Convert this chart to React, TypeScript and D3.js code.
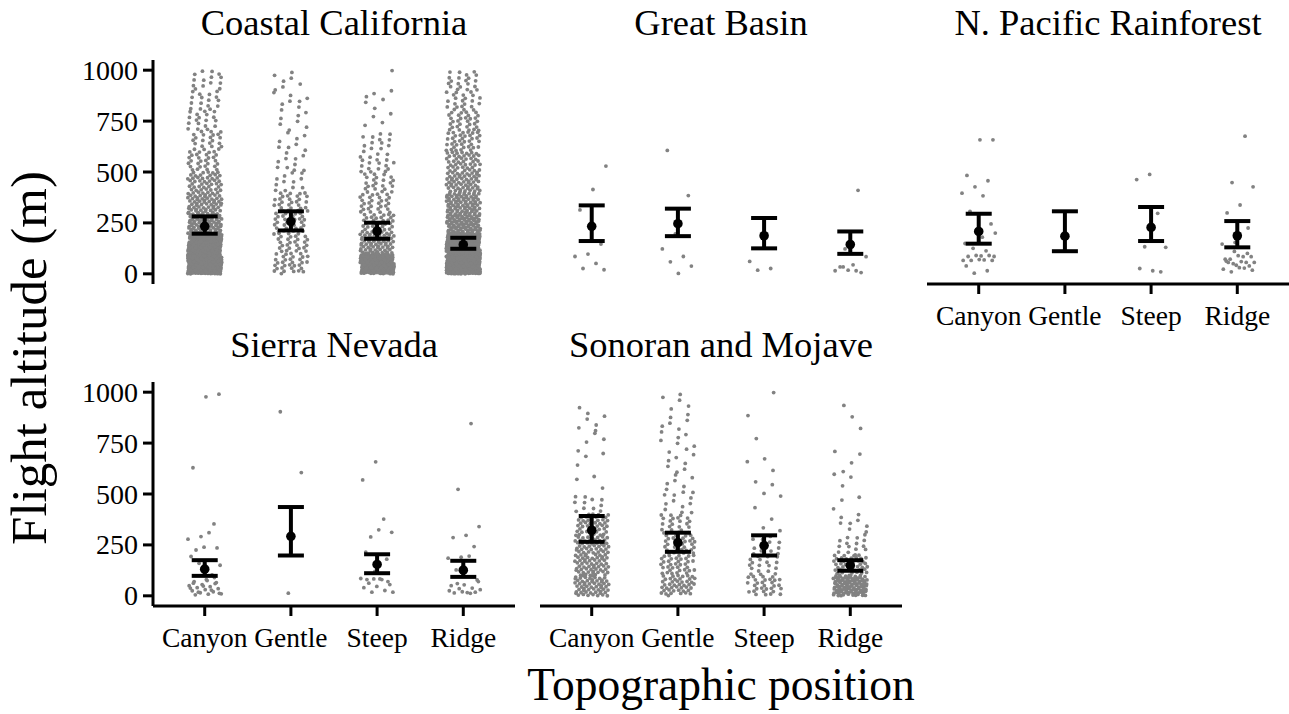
import React from "react";
import * as d3 from "d3";

// ---------- data ----------
const categories = ["Canyon", "Gentle", "Steep", "Ridge"];
const regions = [
  "Coastal California",
  "Great Basin",
  "N. Pacific Rainforest",
  "Sierra Nevada",
  "Sonoran and Mojave",
];
const yTicks = [0, 250, 500, 750, 1000];

// mean and CI per region (rows) x category (cols)
const meanAltitude = [
  [233, 257, 210, 143],
  [233, 246, 187, 144],
  [208, 185, 228, 187],
  [131, 292, 154, 126],
  [322, 261, 247, 150],
];
const lowerCI = [
  [197, 213, 172, 123],
  [161, 185, 125, 98],
  [148, 111, 161, 130],
  [98, 198, 111, 93],
  [265, 216, 198, 123],
];
const upperCI = [
  [282, 307, 251, 177],
  [336, 320, 274, 208],
  [295, 307, 328, 259],
  [175, 436, 204, 172],
  [392, 310, 297, 175],
];

// dense regions: number of flights per 100 m band (0-100, 100-200, ..., 900-1000)
const binEdges = [0, 100, 200, 300, 400, 500, 600, 700, 800, 900, 1000];
const coastalBinCounts = [
  [320, 150, 90, 62, 45, 28, 22, 18, 16, 14],
  [32, 28, 30, 28, 12, 10, 8, 7, 8, 7],
  [170, 65, 36, 28, 22, 18, 13, 4, 6, 1],
  [350, 190, 100, 78, 58, 45, 36, 30, 22, 20],
];
const sonoranBinCounts = [
  [60, 55, 50, 40, 12, 3, 3, 4, 6, 1],
  [45, 35, 30, 22, 10, 8, 7, 7, 7, 5],
  [30, 18, 12, 3, 2, 3, 3, 1, 1, 1],
  [110, 45, 15, 8, 3, 3, 3, 1, 2, 1],
];

// sparse regions: individual flights
const greatBasinPoints = [
  [529, 414, 314, 146, 97, 85, 51, 26, 20],
  [606, 384, 196, 122, 85, 59, 38, 2],
  [174, 61, 26, 18],
  [410, 122, 84, 44, 34, 6, 18, 15, 15, 34],
];
const pacificPoints = [
  [658, 658, 483, 457, 427, 396, 383, 307, 245, 196, 149, 113, 125, 85, 88, 85, 90, 90, 66, 68, 66, 66, 70, 39, 15, 3, 200, 180],
  [],
  [488, 463, 297, 133, 130, 15, 26, 10],
  [676, 448, 427, 338, 299, 225, 154, 146, 84, 72, 84, 89, 72, 56, 50, 56, 60, 56, 39, 42, 23, 28, 10, 18, 30, 62, 100, 110],
];
const sierraPoints = [
  [990, 977, 629, 353, 291, 278, 310, 225, 235, 239, 193, 103, 160, 150, 75, 70, 60, 55, 50, 45, 40, 35, 30, 25, 20, 15, 10, 8, 5, 65, 48, 38, 28, 18, 12, 80, 62, 90],
  [904, 605, 13],
  [658, 569, 377, 289, 312, 324, 215, 180, 83, 85, 80, 62, 55, 46, 40, 26, 18, 18, 83, 80, 70, 120],
  [846, 523, 340, 297, 286, 242, 190, 185, 195, 127, 78, 54, 50, 38, 35, 30, 16, 14, 18, 20, 25, 12, 60, 70],
];

// ---------- layout ----------
const W = 1289;
const H = 714;
const panelW = 362;
const colLeft = [153, 540, 927];
const rowTop = [60, 382];
const panelH = 224;
const FONT = "'Liberation Serif', 'Times New Roman', serif";
const JITTER = 17;
const A1 = 0.7548776662466927;
const A2 = 0.5698402909980532;
const frac = (v: number) => v - Math.floor(v);

type Pt = { cat: number; v: number; j: number };

function binnedPoints(counts: number[][]): Pt[] {
  const pts: Pt[] = [];
  counts.forEach((row, ci) => {
    let k = 0;
    row.forEach((n, bi) => {
      const lo = binEdges[bi];
      const hi = binEdges[bi + 1];
      for (let i = 0; i < n; i++) {
        const t = frac(0.5 + A2 * (i + 1) + ci * 0.37 + bi * 0.13);
        pts.push({ cat: ci, v: lo + (hi - lo) * t, j: frac(0.5 + A1 * (k + 1) + ci * 0.21) });
        k++;
      }
    });
  });
  return pts;
}

function listPoints(lists: number[][]): Pt[] {
  const pts: Pt[] = [];
  lists.forEach((row, ci) =>
    row.forEach((v, i) => pts.push({ cat: ci, v, j: frac(0.3 + 0.6180339887 * (i + 1) + ci * 0.27) }))
  );
  return pts;
}

const panelPoints: Pt[][] = [
  binnedPoints(coastalBinCounts),
  listPoints(greatBasinPoints),
  listPoints(pacificPoints),
  listPoints(sierraPoints),
  binnedPoints(sonoranBinCounts),
];

const panelPos = [
  { col: 0, row: 0, yAxis: true, xAxis: false },
  { col: 1, row: 0, yAxis: false, xAxis: false },
  { col: 2, row: 0, yAxis: false, xAxis: true },
  { col: 0, row: 1, yAxis: true, xAxis: true },
  { col: 1, row: 1, yAxis: false, xAxis: true },
];

function Panel({ idx }: { idx: number }) {
  const pos = panelPos[idx];
  const left = colLeft[pos.col];
  const top = rowTop[pos.row];
  const bottom = top + panelH;
  const x = d3.scalePoint<string>().domain(categories).range([left, left + panelW]).padding(0.6);
  const y = d3.scaleLinear().domain([-50, 1050]).range([bottom, top]);
  const pts = panelPoints[idx];
  return (
    <g>
      <text x={left + panelW / 2} y={pos.row === 0 ? 35 : 357} textAnchor="middle" fontSize={36.5} fontFamily={FONT} fill="#000">
        {regions[idx]}
      </text>
      {pts.map((p, i) => (
        <circle key={i} cx={(x(categories[p.cat]) as number) + (p.j - 0.5) * 2 * JITTER} cy={y(p.v)} r={1.9} fill="#828282" />
      ))}
      {categories.map((c, ci) => {
        const cx = x(c) as number;
        return (
          <g key={c} stroke="#000" strokeWidth={4}>
            <line x1={cx} x2={cx} y1={y(lowerCI[idx][ci])} y2={y(upperCI[idx][ci])} />
            <line x1={cx - 13} x2={cx + 13} y1={y(lowerCI[idx][ci])} y2={y(lowerCI[idx][ci])} />
            <line x1={cx - 13} x2={cx + 13} y1={y(upperCI[idx][ci])} y2={y(upperCI[idx][ci])} />
            <circle cx={cx} cy={y(meanAltitude[idx][ci])} r={4.8} fill="#000" stroke="none" />
          </g>
        );
      })}
      {pos.yAxis && (
        <g>
          <line x1={left} x2={left} y1={top} y2={bottom} stroke="#000" strokeWidth={3} />
          {yTicks.map((t) => (
            <g key={t}>
              <line x1={left - 10} x2={left} y1={y(t)} y2={y(t)} stroke="#000" strokeWidth={3} />
              <text x={left - 15} y={y(t)} dy="0.34em" textAnchor="end" fontSize={28} fontFamily={FONT} fill="#000">
                {t}
              </text>
            </g>
          ))}
        </g>
      )}
      {pos.xAxis && (
        <g>
          <line x1={left} x2={left + panelW} y1={bottom} y2={bottom} stroke="#000" strokeWidth={3} />
          {categories.map((c) => (
            <g key={c}>
              <line x1={x(c) as number} x2={x(c) as number} y1={bottom} y2={bottom + 10} stroke="#000" strokeWidth={3} />
              <text x={x(c) as number} y={bottom + 41} textAnchor="middle" fontSize={27.5} fontFamily={FONT} fill="#000">
                {c}
              </text>
            </g>
          ))}
        </g>
      )}
    </g>
  );
}

export default function App() {
  return (
    <svg width={W} height={H} style={{ position: "absolute", left: 0, top: 0, background: "#fff" }}>
      <rect width={W} height={H} fill="#fff" />
      {regions.map((_, i) => (
        <Panel key={i} idx={i} />
      ))}
      <text x={721} y={700} textAnchor="middle" fontSize={45.5} fontFamily={FONT} fill="#000">
        Topographic position
      </text>
      <text transform="translate(46,358) rotate(-90)" textAnchor="middle" fontSize={51} fontFamily={FONT} fill="#000">
        Flight altitude (m)
      </text>
    </svg>
  );
}
